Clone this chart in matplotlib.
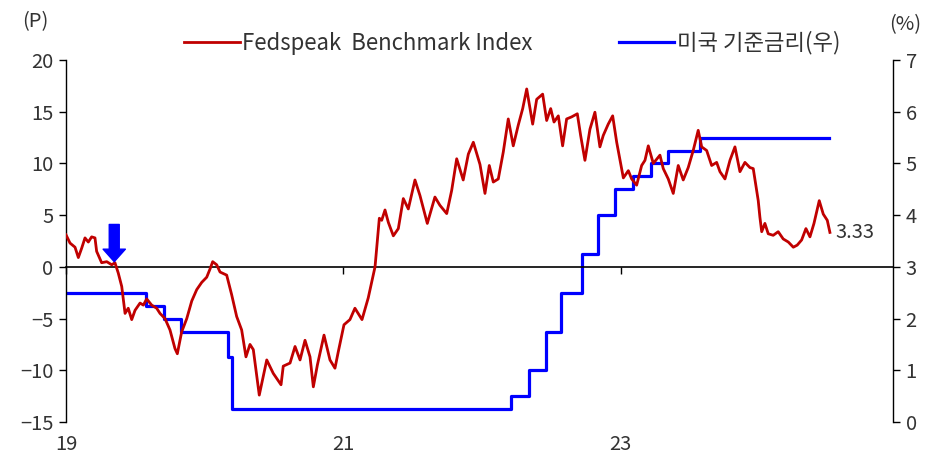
import matplotlib
matplotlib.use("Agg")
import matplotlib.pyplot as plt
import numpy as np

plt.rcParams['font.family'] = ['Noto Sans CJK KR', 'DejaVu Sans']

# ---- data ----
fed_years = [2019.000, 2019.029, 2019.065, 2019.089, 2019.113, 2019.137, 2019.161, 2019.185, 2019.209, 2019.221,
             2019.257, 2019.294, 2019.330, 2019.353, 2019.377, 2019.402, 2019.426, 2019.449, 2019.474, 2019.498,
             2019.534, 2019.558, 2019.582, 2019.618, 2019.654, 2019.678, 2019.714, 2019.750, 2019.786, 2019.803,
             2019.834, 2019.871, 2019.907, 2019.943, 2019.979, 2020.015, 2020.039, 2020.058, 2020.087, 2020.111,
             2020.159, 2020.195, 2020.231, 2020.267, 2020.298, 2020.327, 2020.351, 2020.394, 2020.448, 2020.495,
             2020.551, 2020.567, 2020.616, 2020.652, 2020.688, 2020.724, 2020.760, 2020.784, 2020.813, 2020.861,
             2020.904, 2020.940, 2020.964, 2021.005, 2021.048, 2021.084, 2021.135, 2021.180, 2021.229, 2021.260,
             2021.277, 2021.301, 2021.325, 2021.361, 2021.397, 2021.433, 2021.469, 2021.517, 2021.553, 2021.606,
             2021.661, 2021.697, 2021.746, 2021.782, 2021.818, 2021.865, 2021.902, 2021.938, 2021.986, 2022.022,
             2022.053, 2022.082, 2022.118, 2022.154, 2022.190, 2022.226, 2022.262, 2022.294, 2022.323, 2022.366,
             2022.395, 2022.438, 2022.467, 2022.496, 2022.520, 2022.551, 2022.582, 2022.611, 2022.647, 2022.688,
             2022.712, 2022.743, 2022.779, 2022.815, 2022.851, 2022.875, 2022.911, 2022.943, 2022.972, 2023.020,
             2023.056, 2023.080, 2023.116, 2023.152, 2023.176, 2023.200, 2023.236, 2023.284, 2023.308, 2023.344,
             2023.380, 2023.416, 2023.452, 2023.488, 2023.524, 2023.560, 2023.585, 2023.621, 2023.657, 2023.693,
             2023.717, 2023.753, 2023.789, 2023.825, 2023.861, 2023.897, 2023.933, 2023.957, 2023.993, 2024.005,
             2024.018, 2024.041, 2024.065, 2024.101, 2024.137, 2024.173, 2024.210, 2024.246, 2024.274, 2024.306,
             2024.337, 2024.366, 2024.395, 2024.433, 2024.462, 2024.491, 2024.510]
fed_index = [3.1, 2.3, 1.9, 0.9, 1.8, 2.8, 2.4, 2.9, 2.8, 1.5,
             0.4, 0.5, 0.2, 0.4, -0.6, -1.9, -4.5, -4.0, -5.1, -4.2,
             -3.5, -3.7, -3.1, -3.7, -4.0, -4.5, -5.0, -6.1, -7.9, -8.4,
             -6.3, -5.0, -3.3, -2.2, -1.5, -1.0, -0.2, 0.5, 0.2, -0.5,
             -0.8, -2.7, -4.8, -6.1, -8.7, -7.5, -8.0, -12.4, -9.0, -10.3,
             -11.4, -9.6, -9.3, -7.7, -9.0, -7.1, -8.7, -11.6, -9.5, -6.6,
             -9.0, -9.8, -8.2, -5.6, -5.1, -4.0, -5.1, -3.0, 0.0, 4.7,
             4.5, 5.5, 4.3, 3.0, 3.7, 6.6, 5.6, 8.4, 6.9, 4.2,
             6.75, 5.95, 5.15, 7.4, 10.45, 8.4, 10.9, 12.05, 9.9, 7.1,
             9.8, 8.2, 8.5, 11.1, 14.3, 11.7, 13.7, 15.3, 17.2, 13.8,
             16.2, 16.7, 14.15, 15.3, 14.0, 14.6, 11.7, 14.3, 14.5, 14.8,
             12.7, 10.3, 13.3, 14.95, 11.6, 12.7, 13.8, 14.6, 12.05, 8.6,
             9.3, 8.5, 7.9, 9.8, 10.3, 11.7, 10.0, 10.8, 9.5, 8.5,
             7.1, 9.8, 8.4, 9.6, 11.25, 13.2, 11.6, 11.25, 9.8, 10.1,
             9.2, 8.5, 10.3, 11.6, 9.2, 10.1, 9.6, 9.5, 6.4, 4.8,
             3.4, 4.2, 3.2, 3.05, 3.4, 2.7, 2.4, 1.9, 2.1, 2.6,
             3.7, 2.9, 4.2, 6.4, 5.1, 4.5, 3.33]

rate_years = [2019.00, 2019.58, 2019.71, 2019.83, 2020.17, 2020.20, 2022.21, 2022.34, 2022.46,
              2022.57, 2022.72, 2022.84, 2022.96, 2023.09, 2023.22, 2023.34, 2023.57, 2024.50]
rate_values = [2.50, 2.25, 2.00, 1.75, 1.25, 0.25, 0.50, 1.00, 1.75,
               2.50, 3.25, 4.00, 4.50, 4.75, 5.00, 5.25, 5.50, 5.50]

x_ticks = [2019, 2021, 2023]
x_tick_labels = ['19', '21', '23']
left_ticks = [-15, -10, -5, 0, 5, 10, 15, 20]
right_ticks = [0, 1, 2, 3, 4, 5, 6, 7]
last_label = '3.33'

RED = '#C00000'
BLUE = '#0000FF'
TXT = '#333333'
FS = 14.5
LFS = 16

fig = plt.figure(figsize=(9.31, 4.57), dpi=100)
ax = fig.add_axes([66/931, 1-422/457, (893-66)/931, (422-60)/457])
ax2 = ax.twinx()

ln1, = ax.plot(fed_years, fed_index, color=RED, lw=2.0, label='Fedspeak  Benchmark Index', zorder=3)
ln2, = ax2.plot(rate_years, rate_values, color=BLUE, lw=2.3, drawstyle='steps-post',
                label='미국 기준금리(우)')

ax.set_zorder(ax2.get_zorder() + 1)
ax.patch.set_visible(False)

ax.set_xlim(2019.0, 2024.965)
ax.set_ylim(-15, 20)
ax2.set_ylim(0, 7)
ax.set_yticks(left_ticks)
ax2.set_yticks(right_ticks)
ax.set_xticks(x_ticks)
ax.set_xticklabels(x_tick_labels)

for s in ['top', 'bottom']:
    ax.spines[s].set_visible(False)
    ax2.spines[s].set_visible(False)
ax.spines['left'].set_linewidth(1.0)
ax2.spines['right'].set_linewidth(1.0)
ax2.spines['left'].set_visible(False)
ax.spines['right'].set_visible(False)

ax.tick_params(axis='y', direction='out', length=5, width=1, labelsize=FS, colors='black', labelcolor=TXT, pad=4)
ax2.tick_params(axis='y', direction='out', length=5, width=1, labelsize=FS, colors='black', labelcolor=TXT, pad=4)
ax.tick_params(axis='x', length=0, labelsize=FS, labelcolor=TXT, pad=9)

# zero line acting as x-axis with ticks
sec = ax.secondary_xaxis(15/35)
sec.set_xticks(x_ticks)
sec.set_xticklabels(['', '', ''])
sec.tick_params(axis='x', direction='out', length=5, width=1)
sec.spines['bottom'].set_linewidth(1.2)

# annotations
ax.annotate('', xy=(2019.348, 0.5), xytext=(2019.348, 4.1),
            arrowprops=dict(arrowstyle='simple,head_length=0.45,head_width=0.8,tail_width=0.36',
                            color=BLUE, shrinkA=0, shrinkB=0, mutation_scale=20), zorder=5)
ax.text(2024.55, fed_index[-1], last_label, ha='left', va='center', fontsize=FS, color=TXT)

fig.text(35/931, 1-22/457, '(P)', ha='center', va='center', fontsize=FS, color=TXT)
fig.text(905/931, 1-25/457, '(%)', ha='center', va='center', fontsize=FS, color=TXT)

fig.legend(handles=[ln1, ln2], loc='center', bbox_to_anchor=(512/931, 1-43/457), ncol=2,
           frameon=False, fontsize=LFS, handlelength=2.5, handletextpad=0.1, columnspacing=3.9,
           labelcolor=TXT)

fig.savefig('out.png', dpi=100)
